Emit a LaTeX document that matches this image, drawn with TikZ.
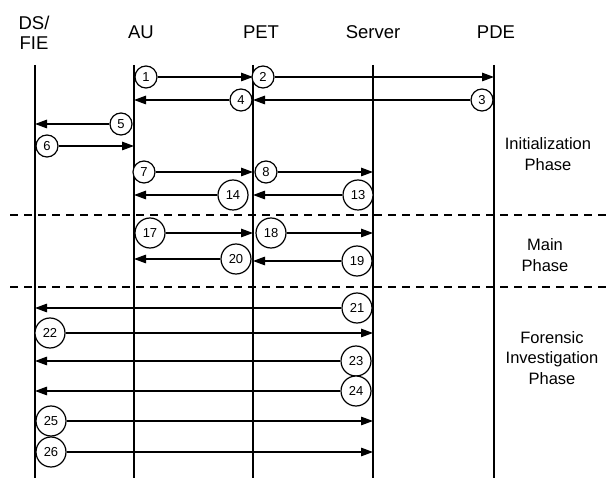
\documentclass[tikz,border=0pt]{standalone}
\usepackage{fontspec}
\setmainfont{Liberation Sans}
\usetikzlibrary{arrows.meta,positioning,calc}
\tikzset{
  >={Triangle[length=12pt,width=8.5pt]},
  life/.style  = {line width=1.3pt},
  msg/.style   = {->, line width=1.3pt},
  num/.style   = {circle, draw, line width=1.2pt, fill=white, inner sep=0pt, minimum size=22pt, font=\fontsize{13}{15}\selectfont},
  numw/.style  = {num, minimum size=30pt},
  head/.style  = {align=center, font=\fontsize{18.5}{20}\selectfont},
  phase/.style = {align=center, font=\fontsize{16.5}{20.5}\selectfont},
  sep/.style   = {line width=1.2pt, dash pattern=on 8pt off 6pt}
}

\begin{document}
\begin{tikzpicture}[x=1pt,y=-1pt]
\useasboundingbox (0,0) rectangle (611,478);

% lifelines
\coordinate (DS) at (35,65);
\coordinate (AU) at (134,65);
\coordinate (PET) at (253,65);
\coordinate (SRV) at (373,65);
\coordinate (PDE) at (494,65);
\coordinate (bot) at (0,478);
\draw[life] (DS) -- (DS |- bot);
\draw[life] (AU) -- (AU |- bot);
\draw[life] (PET) -- (PET |- bot);
\draw[life] (SRV) -- (SRV |- bot);
\draw[life] (PDE) -- (PDE |- bot);

\node[head] (hDS) at (34,33) {DS/\\FIE};
\node[head] (hAU) at (141,32) {AU};
\node[head] (hPET) at (261,32) {PET};
\node[head] (hSRV) at (373,32) {Server};
\node[head] (hPDE) at (496,32) {PDE};

% phases
\draw[sep] (10,215) -- (611,215);
\draw[sep] (10,287) -- (611,287);
\node[phase] (init) at (548,154) {Initialization\\Phase};
\node[phase] (main) at (545,255) {Main\\Phase};
\node[phase] (foren) at (552,358) {Forensic\\Investigation\\Phase};

% initialization
\node[num] (m1) at (146,77) {1};
\node[num] (m2) at (263,77) {2};
\node[num] (m3) at (482,100) {3};
\node[num] (m4) at (241,100) {4};
\node[num] (m5) at (121,124) {5};
\node[num] (m6) at (47,146) {6};
\node[num] (m7) at (144,172) {7};
\node[num] (m8) at (266,172) {8};
\node[numw] (m14) at (233,195) {14};
\node[numw] (m13) at (358,195) {13};

\draw[msg] (m1) -- (m1 -| PET);
\draw[msg] (m2) -- (m2 -| PDE);
\draw[msg] (m3) -- (m3 -| PET);
\draw[msg] (m4) -- (m4 -| AU);
\draw[msg] (m5) -- (m5 -| DS);
\draw[msg] (m6) -- (m6 -| AU);
\draw[msg] (m7) -- (m7 -| PET);
\draw[msg] (m8) -- (m8 -| SRV);
\draw[msg] (m14) -- (m14 -| AU);
\draw[msg] (m13) -- (m13 -| PET);

% main
\node[numw] (m17) at (150,233) {17};
\node[numw] (m18) at (271,233) {18};
\node[numw] (m20) at (236,259) {20};
\node[numw] (m19) at (357,261) {19};

\draw[msg] (m17) -- (m17 -| PET);
\draw[msg] (m18) -- (m18 -| SRV);
\draw[msg] (m20) -- (m20 -| AU);
\draw[msg] (m19) -- (m19 -| PET);

% forensic investigation
\node[numw] (m21) at (357,308) {21};
\node[numw] (m22) at (50,333) {22};
\node[numw] (m23) at (356,361) {23};
\node[numw] (m24) at (356,391) {24};
\node[numw] (m25) at (51,421) {25};
\node[numw] (m26) at (51,452) {26};

\draw[msg] (m21) -- (m21 -| DS);
\draw[msg] (m22) -- (m22 -| SRV);
\draw[msg] (m23) -- (m23 -| DS);
\draw[msg] (m24) -- (m24 -| DS);
\draw[msg] (m25) -- (m25 -| SRV);
\draw[msg] (m26) -- (m26 -| SRV);
\end{tikzpicture}
\end{document}
